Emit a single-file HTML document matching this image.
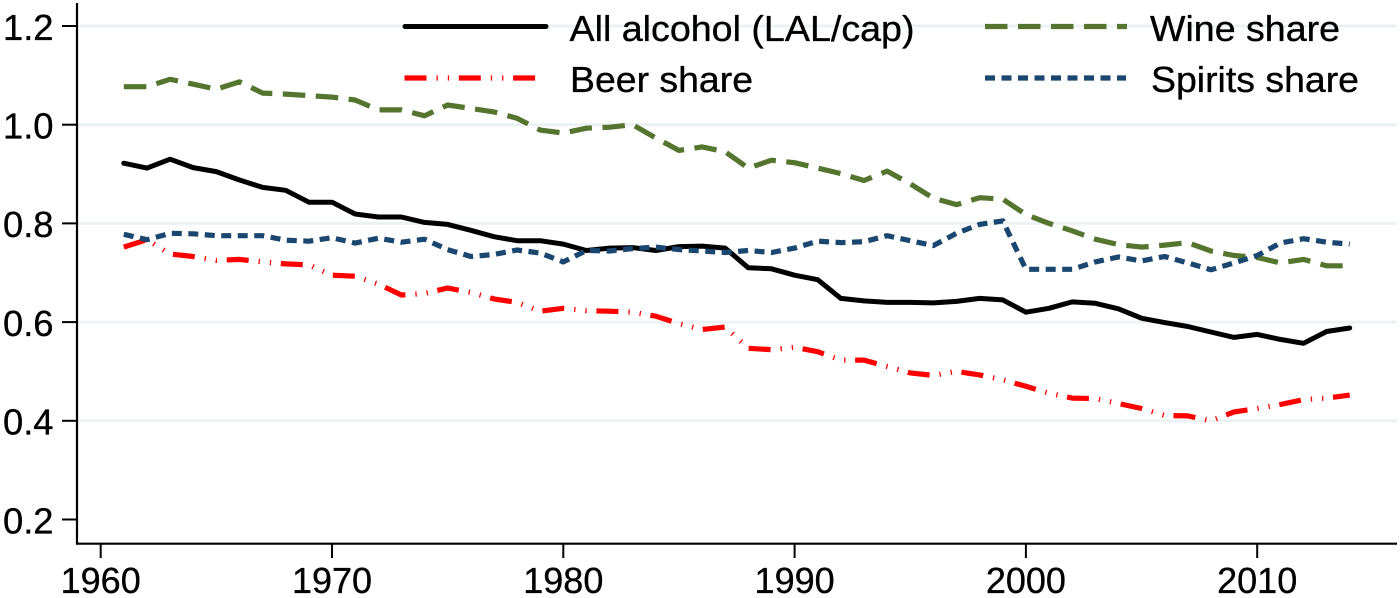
<!DOCTYPE html>
<html lang="en">
<head>
<meta charset="utf-8">
<title>Alcohol consumption and shares, 1961-2014</title>
<style>
html,body{margin:0;padding:0;background:#fff;width:1400px;height:598px;overflow:hidden}
svg{display:block}
text{font-family:"Liberation Sans",Arial,sans-serif;fill:#000;stroke:#000;stroke-width:.35px}
</style>
</head>
<body>
<svg id="chart" xmlns="http://www.w3.org/2000/svg" width="1400" height="598" viewBox="0 0 1400 598">
  <rect x="0" y="0" width="1400" height="598" fill="#ffffff"/>
  <g id="grid"></g>
  <g id="axes"></g>
  <g id="series"></g>
  <g id="legend"></g>
</svg>
<script>
const firstYear = 1961;
const xTicks = [1960, 1970, 1980, 1990, 2000, 2010];
const yTicks = [0.2, 0.4, 0.6, 0.8, 1.0, 1.2];
const allAlcohol = [.922,.912,.930,.913,.905,.888,.873,.867,.843,.843,.819,.813,.813,.802,.798,.786,.773,.765,.765,.758,.745,.750,.751,.745,.753,.754,.750,.710,.708,.695,.686,.648,.643,.640,.640,.639,.642,.648,.645,.620,.628,.641,.638,.627,.608,.599,.591,.580,.569,.575,.565,.557,.581,.588];
const beerShare = [.752,.767,.738,.733,.725,.727,.722,.718,.716,.695,.693,.677,.655,.658,.669,.660,.647,.640,.622,.628,.623,.622,.620,.612,.597,.585,.590,.547,.544,.549,.540,.523,.523,.510,.497,.492,.500,.493,.483,.470,.456,.446,.445,.435,.425,.411,.410,.400,.418,.425,.433,.443,.446,.452];
const wineShare = [1.077,1.077,1.092,1.082,1.072,1.087,1.064,1.062,1.059,1.056,1.050,1.030,1.030,1.018,1.040,1.033,1.026,1.013,.989,.983,.993,.995,1.000,.973,.948,.955,.945,.912,.928,.923,.912,.901,.887,.906,.880,.851,.838,.852,.849,.818,.800,.785,.768,.757,.752,.756,.761,.744,.735,.731,.720,.727,.714,.714];
const spiritsShare = [.778,.767,.780,.779,.775,.775,.775,.766,.764,.771,.760,.770,.762,.768,.747,.733,.737,.746,.740,.722,.745,.744,.749,.752,.747,.744,.741,.745,.741,.750,.764,.761,.763,.775,.765,.755,.780,.798,.805,.707,.707,.707,.722,.732,.724,.733,.720,.706,.720,.735,.760,.769,.762,.758];

const SVG_NS = 'http://www.w3.org/2000/svg';
const x = function (year) { return 100.7 + (year - 1960) * 23.13; };
const y = function (value) { return 26 + (1.2 - value) * 493.5; };
const gridG = document.getElementById('grid');
const axesG = document.getElementById('axes');
const seriesG = document.getElementById('series');
const legendG = document.getElementById('legend');

function make(tag, attrs, parent) {
  const el = document.createElementNS(SVG_NS, tag);
  Object.keys(attrs).forEach(function (k) { el.setAttribute(k, attrs[k]); });
  parent.appendChild(el);
  return el;
}

yTicks.forEach(function (v) {
  const py = y(v);
  if (v > 0.3) {
    const g = make('line', {x1: 78, x2: 1397, y1: py, y2: py, stroke: '#eaf2f3', 'stroke-width': 2.8}, gridG);
    
    
  }
  const t = make('line', {x1: 62, x2: 77, y1: py, y2: py, stroke: '#000', 'stroke-width': 2}, axesG);
  
  
  const l = make('text', {x: 53.5, y: py + 13.8, 'text-anchor': 'end', 'font-size': 36, textLength: 50.5, lengthAdjust: 'spacingAndGlyphs'}, axesG);
  l.textContent = v.toFixed(1);
  
  
});

xTicks.forEach(function (yr) {
  const px = x(yr);
  const t = make('line', {x1: px, x2: px, y1: 544, y2: 558, stroke: '#000', 'stroke-width': 2}, axesG);
  
  
  const l = make('text', {x: px, y: 593, 'text-anchor': 'middle', 'font-size': 36}, axesG);
  l.textContent = String(yr);
  
  
});

const yAxis = make('line', {x1: 77, x2: 77, y1: 3, y2: 544.6, stroke: '#000', 'stroke-width': 2.2}, axesG);


const xAxis = make('line', {x1: 76, x2: 1397, y1: 543.7, y2: 543.7, stroke: '#000', 'stroke-width': 2.2}, axesG);



function linePoints(values) {
  return values.map(function (v, i) {
    return x(firstYear + i).toFixed(1) + ',' + y(v).toFixed(1);
  }).join(' ');
}

const black = make('polyline', {points: linePoints(allAlcohol), fill: 'none', stroke: '#000000', 'stroke-width': 5, 'stroke-linejoin': 'round', 'stroke-linecap': 'round'}, seriesG);


const red = make('polyline', {points: linePoints(beerShare), fill: 'none', stroke: '#ff0000', 'stroke-width': 5.2, 'stroke-dasharray': '22 10 1.3 10 1.3 9.7', 'stroke-linejoin': 'round'}, seriesG);


const green = make('polyline', {points: linePoints(wineShare), fill: 'none', stroke: '#55752f', 'stroke-width': 5.2, 'stroke-dasharray': '22.5 10.5', 'stroke-linejoin': 'round'}, seriesG);


const blue = make('polyline', {points: linePoints(spiritsShare), fill: 'none', stroke: '#1a476f', 'stroke-width': 5.2, 'stroke-dasharray': '10 6.5', 'stroke-linejoin': 'round'}, seriesG);



const k1 = make('line', {x1: 405, x2: 546, y1: 26.5, y2: 26.5, stroke: '#000000', 'stroke-width': 5, 'stroke-linecap': 'round'}, legendG);


const t1 = make('text', {x: 569.5, y: 41, 'font-size': 36.5, textLength: 345, lengthAdjust: 'spacingAndGlyphs'}, legendG);
t1.textContent = 'All alcohol (LAL/cap)';



const k2 = make('line', {x1: 404.5, x2: 544, y1: 78, y2: 78, stroke: '#ff0000', 'stroke-width': 5.2, 'stroke-dasharray': '22 10 1.3 10 1.3 9.7'}, legendG);


const t2 = make('text', {x: 570, y: 92, 'font-size': 36.5, textLength: 183, lengthAdjust: 'spacingAndGlyphs'}, legendG);
t2.textContent = 'Beer share';



const k3 = make('line', {x1: 985, x2: 1127, y1: 26.5, y2: 26.5, stroke: '#55752f', 'stroke-width': 5.2, 'stroke-dasharray': '22.5 10.5'}, legendG);


const t3 = make('text', {x: 1150, y: 41, 'font-size': 36.5, textLength: 190, lengthAdjust: 'spacingAndGlyphs'}, legendG);
t3.textContent = 'Wine share';



const k4 = make('line', {x1: 985, x2: 1126, y1: 78, y2: 78, stroke: '#1a476f', 'stroke-width': 5.2, 'stroke-dasharray': '10 6.5'}, legendG);


const t4 = make('text', {x: 1151, y: 92, 'font-size': 36.5, textLength: 208, lengthAdjust: 'spacingAndGlyphs'}, legendG);
t4.textContent = 'Spirits share';


</script>
</body>
</html>
